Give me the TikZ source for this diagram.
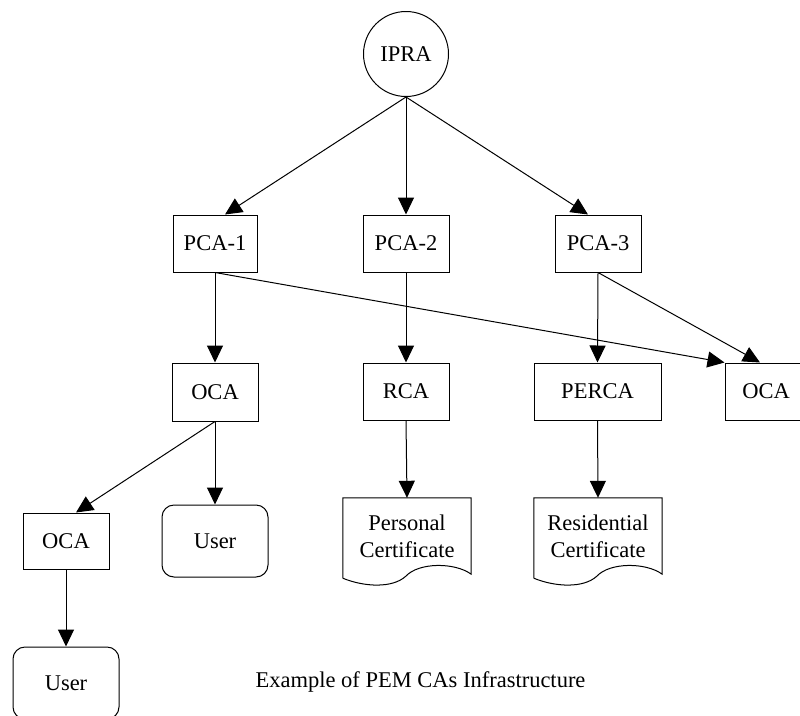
\documentclass[tikz,border=0pt]{standalone}
\usepackage{fontspec}
\setmainfont{Liberation Serif}
\usetikzlibrary{arrows.meta,calc}

% Outline of a "document" symbol around a named node (wavy lower edge)
\newcommand\certoutline[1]{%
  \draw[boxline] ($(#1.south west)+(0,4)$) -- (#1.north west) -- (#1.north east) -- (#1.south east)
    .. controls ($(#1.south west)+(112,-12)$) and ($(#1.south west)+(76,-12)$) .. ($(#1.south west)+(63,2)$)
    .. controls ($(#1.south west)+(50,14)$) and ($(#1.south west)+(22,13)$) .. ($(#1.south west)+(0,4)$);%
}

\tikzset{
  x=1pt, y=-1pt,
  every node/.style={font=\fontsize{22.5}{27}\selectfont, inner sep=0pt},
  boxline/.style={draw=black, line width=1pt},
  cabox/.style={boxline, rectangle, minimum height=57pt},
  userbox/.style={boxline, rectangle, rounded corners=12pt, minimum width=106pt, minimum height=72pt},
  certnode/.style={rectangle, minimum width=128pt, minimum height=76pt, align=center},
  rootnode/.style={boxline, circle, minimum size=85pt},
  link/.style={draw=black, line width=1pt, -{Triangle[length=17pt,width=16pt]}},
}

\begin{document}
\begin{tikzpicture}
\useasboundingbox (0,0) rectangle (800,715);

% root authority
\node[rootnode] (ipra) at (406,54) {IPRA};

% policy CAs
\node[cabox, minimum width=84pt] (pca1) at (215,243.5) {PCA-1};
\node[cabox, minimum width=86pt] (pca2) at (406,243.5) {PCA-2};
\node[cabox, minimum width=86pt] (pca3) at (598,243.5) {PCA-3};

% second level
\node[cabox, minimum width=86pt, minimum height=58pt] (oca1) at (215,392) {OCA};
\node[cabox, minimum width=86pt] (rca) at (406,391.5) {RCA};
\node[cabox, minimum width=127pt] (perca) at (597.5,391.5) {PERCA};
\node[cabox, minimum width=82pt] (oca2) at (766,391.5) {OCA};

% third level
\node[cabox, minimum width=86pt, minimum height=56pt] (oca3) at (66,541) {OCA};
\node[userbox] (user1) at (215,541) {User};
\node[certnode] (pers) at (407,536) {Personal\\Certificate};
\node[certnode] (resi) at (598,536) {Residential\\Certificate};
\certoutline{pers}
\certoutline{resi}

% bottom level
\node[userbox] (user2) at (66,683) {User};

% caption
\node[anchor=base] (caption) at (420.5,687) {Example of PEM CAs Infrastructure};

% connectors
\draw[link] (ipra.south) -- ([xshift=10pt]pca1.north);
\draw[link] (ipra.south) -- (pca2.north);
\draw[link] (ipra.south) -- ([xshift=-10pt]pca3.north);

\draw[link] (pca1.south) -- (oca1.north);
\draw[link] (pca1.south) -- (oca2.north west);
\draw[link] (pca2.south) -- (rca.north);
\draw[link] (pca3.south) -- (perca.north);
\draw[link] (pca3.south) -- ([xshift=-6pt]oca2.north);

\draw[link] (oca1.south) -- ([xshift=10pt]oca3.north);
\draw[link] (oca1.south) -- (user1.north);
\draw[link] (rca.south) -- (pers.north);
\draw[link] (perca.south) -- (resi.north);

\draw[link] (oca3.south) -- (user2.north);
\end{tikzpicture}
\end{document}
